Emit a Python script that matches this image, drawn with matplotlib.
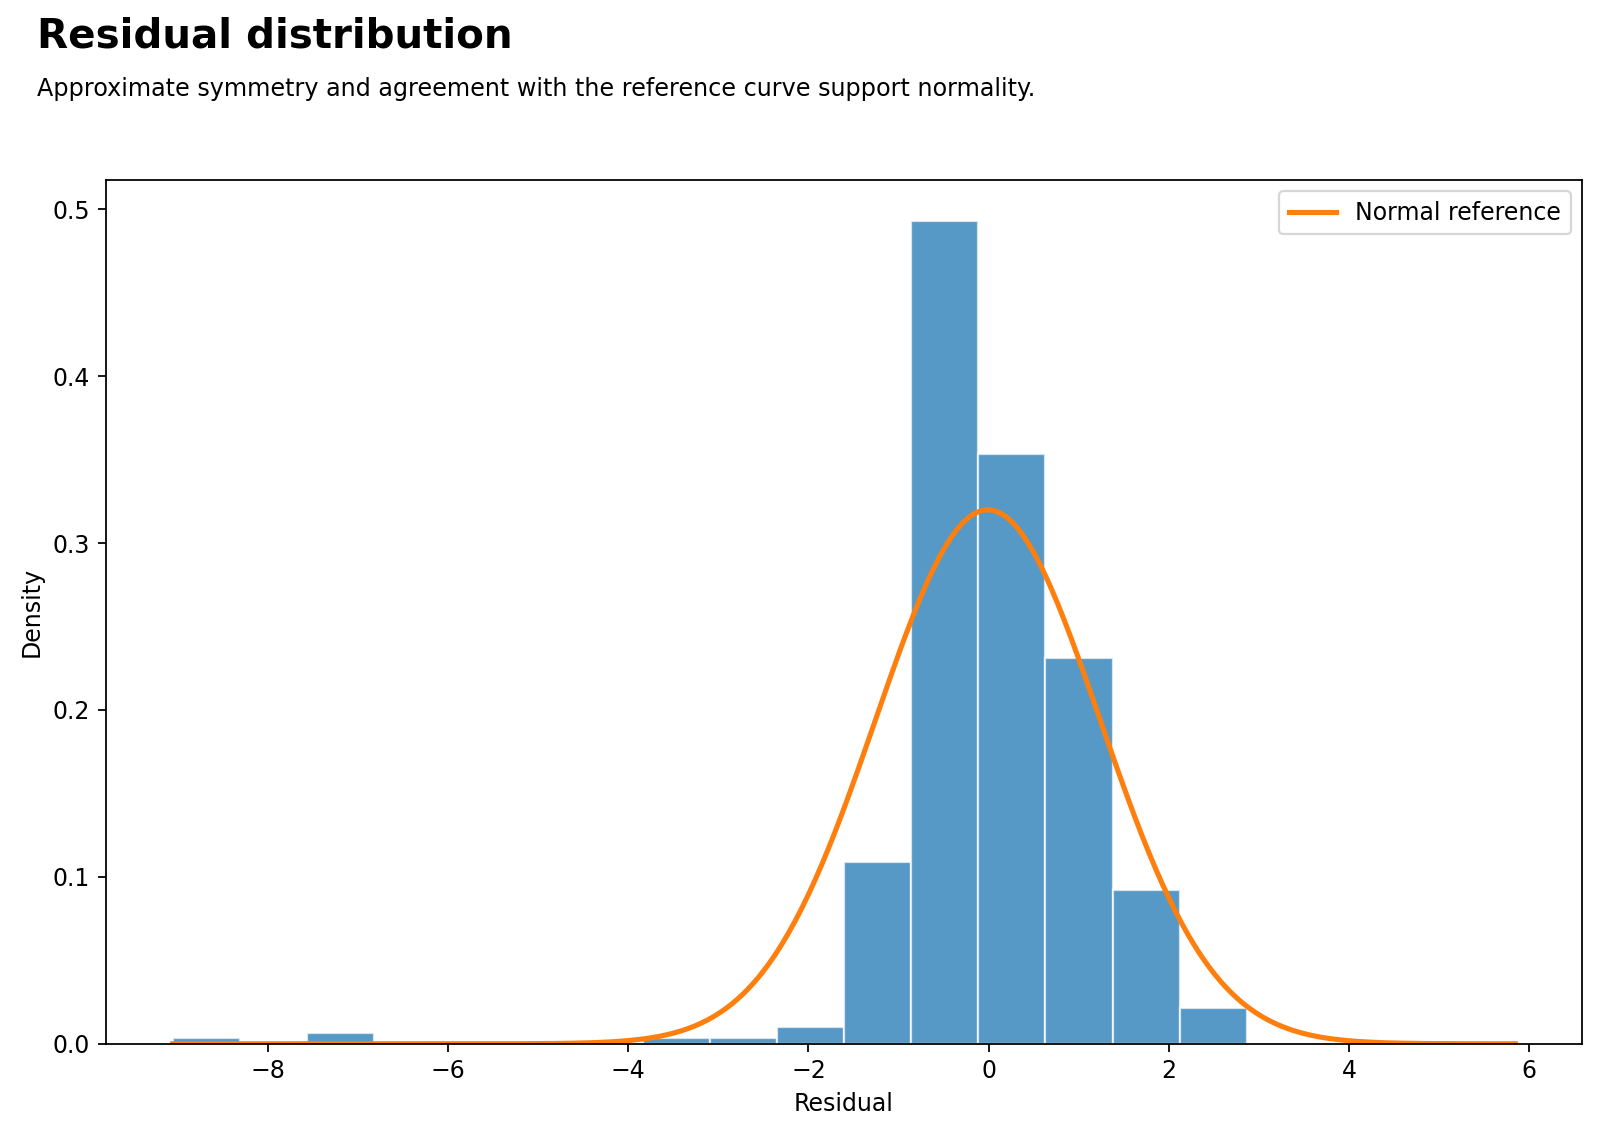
import matplotlib
matplotlib.use("Agg")
import matplotlib.pyplot as plt
import numpy as np

# Histogram bins (20 equal bins, density scale)
bin_start = -9.056
bin_width = 0.745
densities = [0.0034, 0.0, 0.0067, 0.0, 0.0, 0.0, 0.0, 0.0034, 0.0034, 0.0101,
             0.1089, 0.4931, 0.3535, 0.2311, 0.0921, 0.0214, 0.0, 0.0, 0.0, 0.0]

# Normal reference curve parameters
ref_mean = -0.01
ref_std = 1.247

title = "Residual distribution"
subtitle = "Approximate symmetry and agreement with the reference curve support normality."

plt.rcParams["font.size"] = 10.65

edges = bin_start + bin_width * np.arange(len(densities) + 1)

fig = plt.figure(figsize=(10, 1137 / 160), dpi=160)
ax = fig.add_axes([0.066, 0.082, 0.923, 0.760])

ax.bar(edges[:-1], densities, width=bin_width, align="edge",
       color="#1f77b4", alpha=0.75, edgecolor="white", linewidth=1)

xs = np.linspace(edges[0], edges[-1], 400)
pdf = np.exp(-0.5 * ((xs - ref_mean) / ref_std) ** 2) / (ref_std * np.sqrt(2 * np.pi))
ax.plot(xs, pdf, color="#ff7f0e", linewidth=2.3, label="Normal reference")

ax.set_xlabel("Residual")
ax.set_ylabel("Density")
ax.legend(loc="upper right")

fig.text(0.023, 0.958, title, fontsize=18.2, fontweight="bold", va="baseline")
fig.text(0.023, 0.9155, subtitle, fontsize=10.75, va="baseline")

fig.savefig("out.png", dpi=160)
